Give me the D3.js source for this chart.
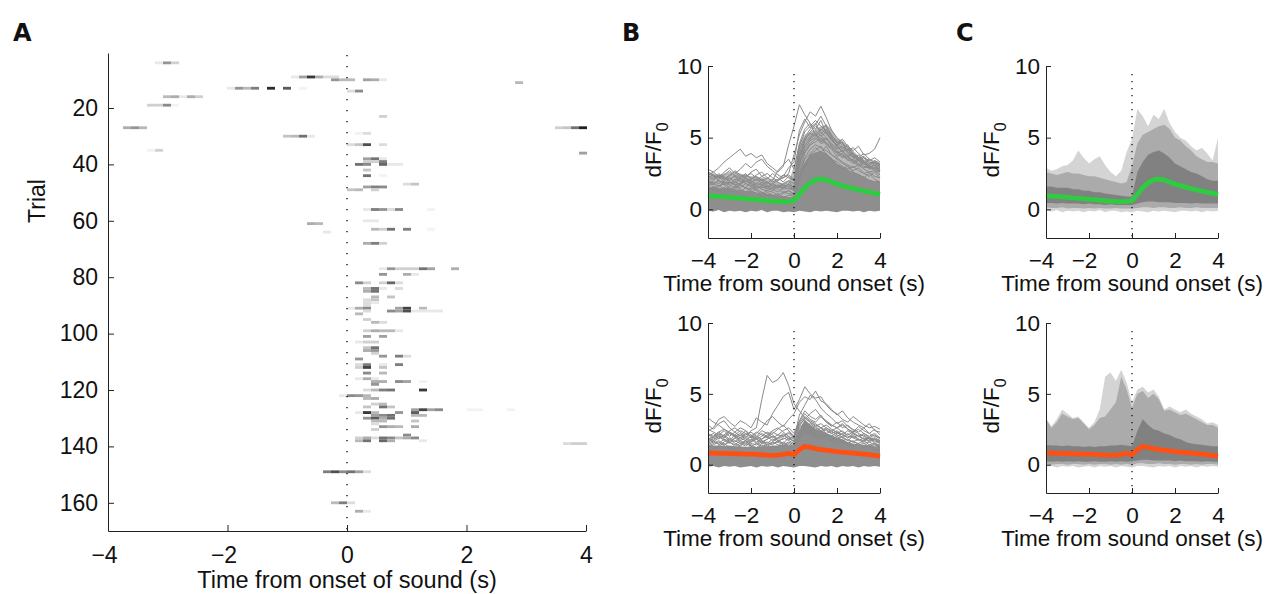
<!DOCTYPE html>
<html>
<head>
<meta charset="utf-8">
<script src="https://cdn.jsdelivr.net/npm/d3@7"></script>
<style>
  body { margin: 0; background: #fff; }
  svg { display: block; }
</style>
</head>
<body>
<svg id="fig" width="1274" height="594"></svg>
<script>
// ---------- shared ----------
const FONT = "'Liberation Sans', Arial, Helvetica, sans-serif";
const timeTicks = [-4, -2, 0, 2, 4];
const dffTicks = [0, 5, 10];
const trialTicks = [20, 40, 60, 80, 100, 120, 140, 160];

// ---------- A: event raster (trial, first frame rel. to onset, darkness per frame) ----------
const frameDur = 0.1339; // seconds per imaging frame
const rasterEvents = [
  [4, -24, [0.1, 0.45, 0.2]],
  [9, -7, [0.1, 0.4, 0.85, 0.35, 0.15, 0.15]],
  [10, -2, [0.45, 0.3, 0.3, 0, 0.4, 0.35, 0.1]],
  [11, 21, [0.3]],
  [13, -15, [0.1, 0.45, 0.3, 0.55, 0, 0.9, 0, 0.7, 0, 0.05]],
  [14, 0, [0.15, 0.5]],
  [16, -23, [0.3, 0.35, 0.1, 0.35, 0.2]],
  [19, -25, [0.2, 0.2, 0.5, 0.05]],
  [23, 4, [0.2]],
  [27, -28, [0.35, 0.45, 0.3]],
  [27, 26, [0.2, 0.25, 0.6, 0.95]],
  [29, 1, [0.05, 0.15]],
  [30, -8, [0.25, 0.3, 0.6, 0.1]],
  [33, 0, [0.15, 0.25, 0.75, 0, 0.15]],
  [35, -25, [0.05, 0.2]],
  [36, 29, [0.4]],
  [38, 2, [0.4, 0.6, 0.1]],
  [39, 2, [0.2, 0.2, 0.55]],
  [40, 1, [0.6, 0.5, 0, 0.65, 0.1, 0.1]],
  [42, 2, [0.25]],
  [44, 2, [0.6, 0, 0.05]],
  [47, 7, [0.15, 0.25]],
  [48, 2, [0.4, 0.55, 0.5]],
  [49, 0, [0.25, 0.3, 0, 0.2]],
  [56, 2, [0.1, 0.55, 0.45, 0.15, 0.5, 0, 0, 0, 0.05]],
  [60, 2, [0.1, 0.1]],
  [61, -5, [0.35, 0.3]],
  [63, 3, [0.3, 0.2, 0.6, 0, 0.55, 0, 0, 0.05]],
  [64, -3, [0.1]],
  [68, 2, [0.35, 0.55, 0.2]],
  [77, 4, [0.1, 0.45, 0.2, 0.2, 0.2, 0.6, 0.4, 0, 0, 0.35]],
  [79, 4, [0.45, 0, 0, 0.35, 0.1]],
  [82, 1, [0.5, 0.2, 0, 0.2, 0.65, 0.15]],
  [84, 2, [0.3, 0.6, 0.1, 0, 0.15]],
  [85, 2, [0.35, 0.6]],
  [87, 3, [0.3, 0, 0.25]],
  [88, 2, [0.15, 0.25]],
  [89, 2, [0.15, 0.1]],
  [90, 2, [0.15]],
  [91, 0, [0.1, 0.35, 0.5, 0, 0, 0, 0.4, 0.8, 0, 0.3]],
  [92, 2, [0.15, 0, 0, 0.5, 0.4, 0.75, 0.1, 0.1, 0.1, 0.1]],
  [93, 1, [0.3]],
  [95, 2, [0.2]],
  [96, 3, [0.3, 0.15]],
  [99, 2, [0.2, 0.35, 0.3, 0.3, 0.1]],
  [101, 2, [0.4, 0, 0.4]],
  [103, 1, [0.1, 0.2, 0.2]],
  [105, 2, [0.25, 0.6]],
  [106, 2, [0.35, 0.45]],
  [107, 3, [0.2]],
  [108, 4, [0.45, 0, 0.55, 0.15]],
  [109, 1, [0.45]],
  [111, 1, [0.15, 0.55, 0, 0.1, 0, 0.55]],
  [112, 1, [0.2, 0.8, 0, 0.25]],
  [114, 2, [0.5, 0, 0.3]],
  [116, 1, [0.1, 0.35, 0.1]],
  [117, 3, [0.35, 0.35, 0, 0.5, 0.4, 0, 0.05]],
  [118, 3, [0.45]],
  [120, 2, [0.15, 0.3, 0.55, 0.6, 0, 0, 0, 0.85]],
  [122, -1, [0.1, 0.5, 0.45, 0.3]],
  [123, 2, [0.3, 0.35]],
  [125, 3, [0.2, 0.3]],
  [126, 2, [0.25, 0, 0.6, 0.25]],
  [127, 8, [0.4, 0.8, 0.4, 0.5, 0, 0, 0, 0.05, 0.05, 0, 0, 0, 0.05]],
  [128, 1, [0.1, 0.85, 0.3, 0, 0, 0.45, 0, 0.7]],
  [129, 3, [0.4, 0.5, 0.6, 0, 0, 0.3, 0.3]],
  [130, 2, [0.45, 0.7, 0.35, 0.6]],
  [131, 3, [0.3, 0.3, 0, 0, 0, 0.25]],
  [132, 3, [0.15]],
  [133, 4, [0.45, 0.35, 0.3, 0, 0.35]],
  [134, 3, [0.2]],
  [136, 7, [0.5]],
  [137, 1, [0.2, 0.35, 0.15, 0.6, 0.5, 0.25, 0.35, 0.5]],
  [138, 1, [0.3, 0.6, 0, 0.65, 0.35, 0, 0, 0, 0.1]],
  [139, 27, [0.15, 0.2, 0.2]],
  [149, -3, [0.55, 0.75, 0.5, 0.6, 0.4, 0.15]],
  [160, -2, [0.3, 0.55, 0.15]],
  [163, 1, [0.35, 0.1]]
];

// ---------- B/C: dF/F0 traces and percentile bands ----------
const sampleTimes = [-4, -3.75, -3.5, -3.25, -3, -2.75, -2.5, -2.25, -2, -1.75, -1.5, -1.25, -1, -0.75, -0.5, -0.25,
  0, 0.25, 0.5, 0.75, 1, 1.25, 1.5, 1.75, 2, 2.25, 2.5, 2.75, 3, 3.25, 3.5, 3.75, 4];

// sound-responsive trials (top row)
const topMean = [0.95, 0.92, 0.9, 0.87, 0.84, 0.8, 0.77, 0.74, 0.7, 0.67, 0.64, 0.6, 0.57, 0.55, 0.54, 0.55,
  0.6, 1.05, 1.5, 1.85, 2.05, 2.1, 2.05, 1.9, 1.75, 1.65, 1.55, 1.45, 1.35, 1.28, 1.2, 1.12, 1.05];
const topLightHi = [2.9, 2.7, 2.8, 3.0, 3.1, 3.4, 4.1, 3.6, 3.2, 3.5, 3.7, 3.1, 2.6, 2.3, 2.7, 4.0,
  4.9, 7.0, 6.5, 5.8, 6.6, 6.3, 7.0, 6.0, 5.4, 5.0, 4.8, 4.4, 4.1, 4.3, 3.9, 3.4, 5.0];
const topMidHi = [2.6, 2.5, 2.4, 2.5, 2.6, 2.5, 2.5, 2.4, 2.3, 2.3, 2.2, 2.1, 2.0, 1.9, 1.8, 1.9,
  3.0, 4.6, 5.2, 5.4, 5.6, 5.8, 5.9, 5.6, 5.0, 4.8, 4.4, 4.1, 3.7, 3.5, 3.3, 3.3, 3.2];
const topDarkHi = [1.6, 1.6, 1.5, 1.5, 1.5, 1.4, 1.4, 1.3, 1.3, 1.2, 1.2, 1.1, 1.05, 1.0, 0.95, 0.9,
  0.9, 2.6, 3.3, 3.8, 4.0, 4.1, 3.9, 3.6, 3.2, 3.0, 2.8, 2.6, 2.5, 2.3, 2.1, 2.0, 2.0];
const topDarkLo = [0.45, 0.45, 0.4, 0.45, 0.4, 0.4, 0.4, 0.35, 0.4, 0.35, 0.35, 0.3, 0.35, 0.3, 0.3, 0.3,
  0.3, 0.4, 0.5, 0.55, 0.55, 0.5, 0.5, 0.5, 0.45, 0.45, 0.45, 0.4, 0.45, 0.4, 0.4, 0.4, 0.4];
const topMidLo = [0.15, 0.1, 0.1, 0.15, 0.05, 0.1, 0.1, 0.05, 0.1, 0.05, 0.1, 0.05, 0.05, 0.1, 0.05, 0.05,
  0.05, 0.1, 0.15, 0.15, 0.1, 0.15, 0.15, 0.1, 0.1, 0.15, 0.1, 0.1, 0.15, 0.1, 0.1, 0.1, 0.1];
const topLightLo = [-0.1, -0.15, -0.05, -0.2, -0.1, -0.15, -0.1, -0.2, -0.1, -0.15, -0.05, -0.2, -0.1, -0.1, -0.2, -0.15,
  -0.2, -0.1, -0.15, -0.2, -0.1, -0.15, -0.1, -0.15, -0.2, -0.1, -0.1, -0.15, -0.1, -0.2, -0.1, -0.15, -0.1];
const topTraces = [
  [2.8, 2.6, 2.9, 3.3, 3.6, 3.9, 4.2, 3.7, 3.9, 3.6, 3.8, 3.2, 2.9, 2.6, 3.0, 4.5, 5.8, 7.3, 6.6, 6.0, 5.6, 6.2, 5.3, 4.8, 4.5, 4.0, 4.2, 3.8, 3.5, 3.3, 3.0, 3.4, 3.2],
  [2.5, 2.3, 2.2, 2.6, 2.9, 2.5, 2.8, 3.2, 2.9, 3.3, 3.5, 3.0, 2.7, 2.4, 2.2, 2.5, 3.8, 5.2, 6.1, 6.8, 6.5, 7.2, 6.4, 5.5, 5.0, 4.6, 4.3, 3.9, 3.6, 3.9, 3.5, 3.3, 3.1],
  [1.8, 2.0, 2.4, 2.1, 2.3, 2.7, 2.4, 2.2, 2.6, 2.8, 2.3, 2.1, 2.5, 2.2, 1.9, 2.3, 2.0, 4.2, 5.0, 5.6, 5.9, 6.5, 5.8, 5.2, 4.6, 4.9, 4.4, 4.1, 4.4, 3.8, 3.9, 4.2, 5.0],
  [1.4, 1.6, 1.3, 1.5, 1.9, 1.7, 1.5, 1.8, 1.6, 1.4, 1.7, 1.5, 1.3, 1.6, 1.8, 2.0, 1.4, 3.0, 4.4, 5.0, 5.3, 4.8, 5.0, 4.4, 3.9, 3.6, 3.8, 3.3, 3.0, 3.2, 2.8, 2.9, 2.6],
  [1.0, 1.2, 1.4, 1.1, 1.3, 1.0, 1.2, 1.5, 1.3, 1.1, 0.9, 1.2, 1.0, 0.8, 1.1, 1.3, 1.0, 2.4, 3.5, 3.9, 4.3, 4.0, 4.4, 3.8, 3.5, 3.2, 3.0, 2.7, 2.9, 2.5, 2.3, 2.6, 2.2],
  [2.2, 2.4, 2.0, 1.8, 2.1, 2.3, 1.9, 2.2, 2.0, 1.8, 2.1, 1.9, 1.7, 1.6, 1.5, 1.7, 1.6, 3.6, 4.8, 5.4, 5.8, 5.5, 5.9, 5.0, 4.7, 4.2, 4.5, 3.8, 3.6, 3.4, 3.1, 3.3, 3.0],
  [1.9, 1.7, 2.1, 2.3, 1.9, 1.8, 2.2, 2.5, 2.1, 2.4, 2.6, 2.2, 2.0, 2.7, 3.1, 3.5, 2.8, 4.6, 5.6, 6.0, 5.2, 5.6, 5.3, 4.8, 4.5, 4.7, 4.0, 3.6, 3.8, 3.3, 3.0, 2.9, 2.8],
  [1.2, 1.5, 1.7, 1.4, 1.6, 2.0, 1.7, 1.5, 1.9, 2.1, 1.8, 1.6, 1.4, 1.2, 1.5, 1.8, 1.3, 3.3, 4.0, 4.6, 4.9, 5.2, 4.6, 4.3, 4.0, 3.7, 3.5, 3.2, 3.4, 3.0, 2.9, 3.1, 2.7],
  [0.8, 1.0, 0.9, 1.2, 1.0, 1.3, 1.1, 0.9, 1.2, 1.4, 1.2, 1.0, 0.9, 1.1, 0.8, 1.0, 0.9, 2.0, 3.0, 3.6, 3.7, 3.5, 3.9, 3.4, 3.1, 2.8, 3.0, 2.6, 2.4, 2.2, 2.5, 2.1, 1.9],
  [2.0, 1.8, 1.6, 1.9, 1.7, 1.5, 1.8, 2.0, 1.7, 1.5, 1.6, 1.4, 1.8, 2.0, 2.3, 2.9, 3.3, 5.5, 6.3, 5.7, 6.0, 5.3, 5.6, 5.0, 4.4, 4.0, 3.7, 3.9, 3.4, 3.2, 3.5, 3.0, 2.8],
  [2.3, 2.1, 2.5, 2.2, 2.0, 2.4, 2.2, 1.9, 2.1, 2.3, 2.0, 1.8, 2.1, 1.9, 1.7, 2.0, 1.8, 3.9, 4.9, 5.3, 5.1, 5.4, 5.0, 4.6, 4.2, 4.4, 3.9, 3.7, 3.5, 3.7, 3.3, 3.2, 3.0],
  [1.7, 1.9, 1.8, 2.0, 2.2, 1.9, 1.7, 2.0, 1.8, 1.6, 1.9, 1.7, 1.5, 1.7, 1.6, 1.4, 1.5, 3.4, 4.5, 4.9, 5.2, 4.7, 4.9, 4.5, 4.1, 3.8, 3.6, 3.4, 3.1, 3.3, 2.9, 3.1, 2.9],
  [2.0, 2.2, 2.3, 1.9, 1.8, 2.1, 2.0, 1.8, 1.6, 1.8, 1.7, 1.9, 1.6, 1.5, 1.7, 1.6, 1.4, 2.8, 3.9, 4.5, 4.7, 5.0, 4.5, 4.2, 3.7, 3.9, 3.4, 3.5, 3.2, 2.9, 3.0, 2.7, 2.6],
  [1.5, 1.3, 1.6, 1.8, 1.5, 1.4, 1.7, 1.5, 1.4, 1.6, 1.4, 1.3, 1.5, 1.4, 1.2, 1.3, 1.1, 2.6, 3.6, 4.2, 4.5, 4.3, 4.1, 3.8, 3.6, 3.3, 3.1, 2.9, 3.1, 2.8, 2.6, 2.7, 2.4],
  [2.6, 2.4, 2.2, 2.4, 2.7, 2.3, 2.1, 2.3, 2.5, 2.2, 2.0, 2.2, 1.9, 2.1, 2.4, 2.2, 2.0, 4.4, 5.4, 5.8, 6.2, 5.8, 5.5, 5.1, 4.8, 4.5, 4.1, 4.3, 3.9, 3.6, 3.4, 3.6, 3.3],
  [1.3, 1.4, 1.2, 1.5, 1.3, 1.6, 1.4, 1.2, 1.5, 1.3, 1.1, 1.3, 1.2, 1.0, 1.2, 1.1, 1.0, 2.2, 3.2, 3.8, 4.1, 4.4, 3.8, 3.5, 3.3, 3.0, 2.8, 3.0, 2.7, 2.5, 2.6, 2.3, 2.2],
  [2.4, 2.6, 2.3, 2.1, 2.4, 2.6, 2.3, 2.4, 2.2, 2.0, 2.3, 2.5, 2.2, 2.0, 2.2, 2.4, 2.1, 3.7, 4.7, 5.1, 5.5, 5.1, 5.4, 4.9, 4.3, 4.1, 4.2, 3.6, 3.4, 3.6, 3.2, 3.4, 3.1],
  [1.6, 1.8, 2.0, 1.7, 1.9, 1.7, 1.8, 2.1, 1.9, 1.7, 1.5, 1.6, 1.8, 1.6, 1.4, 1.5, 1.3, 3.1, 4.2, 4.8, 5.0, 4.6, 4.7, 4.3, 3.9, 4.1, 3.7, 3.3, 3.5, 3.2, 3.0, 2.8, 2.7]
];

// remaining trials (bottom row)
const bottomMean = [0.82, 0.81, 0.8, 0.79, 0.78, 0.77, 0.76, 0.75, 0.74, 0.72, 0.7, 0.68, 0.66, 0.68, 0.72, 0.8,
  0.72, 1.05, 1.3, 1.22, 1.13, 1.07, 1.02, 0.98, 0.92, 0.88, 0.85, 0.82, 0.78, 0.74, 0.7, 0.65, 0.6];
const bottomLightHi = [3.3, 2.7, 3.2, 3.9, 3.6, 3.3, 3.4, 3.0, 2.6, 3.0, 3.9, 6.2, 6.5, 5.9, 6.7, 5.8,
  4.4, 5.3, 5.5, 5.1, 5.3, 4.8, 3.9, 4.1, 3.9, 3.7, 3.9, 3.6, 3.4, 3.2, 2.9, 3.0, 2.8];
const bottomMidHi = [3.2, 2.6, 3.0, 3.6, 3.4, 3.2, 3.3, 2.9, 2.5, 2.8, 3.3, 3.4, 3.9, 4.4, 6.2, 5.3,
  4.0, 5.0, 5.2, 4.7, 5.0, 4.6, 3.8, 3.9, 3.7, 3.5, 3.6, 3.4, 3.2, 3.0, 2.8, 2.8, 2.6];
const bottomDarkHi = [1.4, 1.35, 1.35, 1.3, 1.35, 1.3, 1.3, 1.25, 1.3, 1.25, 1.3, 1.3, 1.35, 1.35, 1.4, 1.35,
  1.3, 2.4, 3.2, 2.8, 2.5, 2.4, 2.2, 2.1, 1.9, 1.8, 1.6, 1.5, 1.45, 1.4, 1.35, 1.3, 1.3];
const bottomDarkLo = [0.25, 0.2, 0.25, 0.2, 0.25, 0.2, 0.25, 0.2, 0.2, 0.25, 0.2, 0.2, 0.25, 0.2, 0.25, 0.2,
  0.25, 0.3, 0.35, 0.35, 0.3, 0.3, 0.3, 0.3, 0.25, 0.3, 0.25, 0.25, 0.25, 0.2, 0.25, 0.2, 0.2];
const bottomMidLo = [0.05, 0.0, 0.05, 0.05, 0.0, 0.05, 0.05, 0.0, 0.05, 0.0, 0.05, 0.05, 0.0, 0.05, 0.0, 0.05,
  0.0, 0.1, 0.1, 0.05, 0.05, 0.1, 0.05, 0.05, 0.0, 0.05, 0.05, 0.0, 0.05, 0.0, 0.05, 0.05, 0.0];
const bottomLightLo = [-0.15, -0.1, -0.2, -0.1, -0.15, -0.1, -0.2, -0.15, -0.1, -0.2, -0.1, -0.15, -0.1, -0.2, -0.1, -0.15,
  -0.2, -0.1, -0.1, -0.15, -0.2, -0.1, -0.15, -0.1, -0.2, -0.1, -0.15, -0.1, -0.2, -0.1, -0.15, -0.1, -0.15];
const bottomTraces = [
  [3.3, 3.0, 2.8, 2.5, 2.3, 2.0, 2.2, 1.9, 2.4, 2.6, 4.6, 6.3, 5.8, 6.0, 6.5, 5.6, 4.3, 3.8, 3.3, 3.0, 2.8, 2.6, 2.4, 2.2, 2.4, 2.1, 1.9, 2.2, 2.0, 1.8, 1.9, 2.1, 1.8],
  [2.4, 2.6, 3.2, 3.4, 3.0, 2.7, 3.1, 2.9, 2.6, 3.3, 3.0, 2.8, 3.6, 4.2, 4.8, 5.1, 3.9, 4.6, 5.5, 5.0, 4.7, 4.8, 4.2, 3.8, 3.6, 3.2, 3.0, 3.4, 3.1, 2.8, 2.6, 2.7, 2.5],
  [2.0, 2.2, 1.8, 2.1, 2.4, 2.6, 2.3, 2.0, 1.9, 2.2, 2.6, 3.1, 3.4, 3.0, 2.7, 3.2, 3.6, 4.4, 4.8, 4.6, 5.2, 4.5, 4.3, 3.9, 3.5, 3.8, 3.3, 3.0, 2.8, 2.6, 2.9, 2.4, 2.3],
  [1.6, 1.8, 2.0, 1.7, 1.5, 1.9, 1.6, 1.4, 1.8, 1.5, 1.7, 1.4, 1.6, 1.9, 2.2, 1.8, 2.0, 3.0, 3.6, 3.2, 3.0, 3.4, 3.1, 2.8, 2.6, 2.9, 2.5, 2.3, 2.7, 2.4, 2.2, 2.5, 2.1],
  [1.2, 1.4, 1.6, 1.3, 1.8, 1.5, 1.3, 1.6, 1.4, 1.2, 1.5, 1.8, 2.0, 1.7, 1.5, 1.9, 1.6, 2.5, 2.9, 2.6, 2.3, 2.6, 2.2, 2.0, 2.3, 1.9, 1.7, 2.0, 1.8, 1.6, 1.9, 1.5, 1.4],
  [0.9, 1.1, 1.3, 1.5, 1.2, 1.0, 1.4, 1.7, 1.3, 1.1, 1.4, 1.2, 1.0, 1.3, 1.6, 1.4, 1.2, 2.0, 2.4, 2.2, 2.0, 1.8, 2.1, 1.7, 1.5, 1.8, 1.4, 1.3, 1.5, 1.2, 1.4, 1.1, 1.0],
  [2.8, 2.5, 2.9, 3.1, 2.6, 2.3, 2.0, 2.4, 1.9, 1.6, 1.8, 2.1, 2.4, 2.6, 2.3, 2.0, 1.8, 3.5, 4.2, 4.9, 4.6, 4.0, 3.6, 3.3, 2.9, 3.1, 2.7, 2.5, 2.3, 2.6, 2.2, 2.0, 1.9],
  [1.8, 2.0, 2.3, 2.0, 1.7, 2.1, 2.4, 2.2, 2.0, 2.3, 2.1, 1.9, 2.2, 2.5, 2.8, 2.4, 2.0, 2.8, 3.2, 3.6, 3.9, 3.4, 3.0, 2.7, 3.0, 2.6, 2.8, 2.4, 2.2, 2.0, 1.8, 1.7, 1.5],
  [1.9, 1.7, 2.0, 1.8, 1.6, 1.9, 2.1, 1.8, 1.6, 1.9, 1.7, 1.5, 1.8, 1.6, 1.9, 1.7, 1.5, 2.4, 2.8, 2.5, 2.7, 2.4, 2.2, 2.4, 2.1, 1.9, 2.2, 1.9, 1.7, 1.9, 1.6, 1.8, 1.5],
  [1.5, 1.7, 1.4, 1.6, 1.9, 1.7, 1.5, 1.3, 1.6, 1.8, 1.5, 1.6, 1.4, 1.7, 1.5, 1.3, 1.4, 2.1, 2.6, 2.3, 2.1, 2.3, 2.0, 1.8, 2.0, 1.7, 1.8, 1.6, 1.5, 1.7, 1.4, 1.5, 1.3],
  [2.2, 2.0, 2.3, 2.5, 2.2, 2.0, 1.8, 2.1, 2.3, 2.0, 2.4, 2.2, 1.9, 2.1, 2.0, 2.2, 1.9, 2.7, 3.3, 3.0, 2.7, 2.9, 2.6, 2.4, 2.6, 2.3, 2.1, 2.3, 2.0, 2.2, 1.9, 1.8, 1.7],
  [1.3, 1.5, 1.7, 1.4, 1.6, 1.4, 1.7, 1.5, 1.3, 1.5, 1.3, 1.4, 1.6, 1.4, 1.3, 1.5, 1.3, 1.9, 2.3, 2.1, 1.9, 2.1, 1.8, 1.7, 1.9, 1.6, 1.5, 1.7, 1.4, 1.5, 1.3, 1.4, 1.2],
  [1.7, 1.9, 2.1, 1.9, 2.2, 2.0, 1.7, 1.9, 1.7, 2.0, 1.8, 2.0, 1.7, 1.9, 2.1, 1.8, 1.7, 2.6, 3.0, 2.8, 2.5, 2.3, 2.5, 2.2, 2.0, 2.2, 1.9, 2.1, 1.8, 1.7, 1.9, 1.6, 1.6],
  [2.1, 1.9, 2.2, 2.0, 2.3, 2.1, 1.9, 2.2, 2.0, 1.8, 2.0, 2.3, 2.1, 1.8, 2.0, 2.3, 2.0, 2.9, 3.4, 3.1, 2.9, 2.6, 2.8, 2.5, 2.3, 2.1, 2.4, 2.2, 2.0, 2.1, 1.8, 1.9, 1.7],
  [1.4, 1.6, 1.5, 1.8, 1.6, 1.3, 1.5, 1.7, 1.5, 1.4, 1.6, 1.3, 1.5, 1.6, 1.4, 1.6, 1.4, 2.2, 2.5, 2.4, 2.2, 2.0, 2.2, 1.9, 1.8, 2.0, 1.7, 1.6, 1.8, 1.5, 1.6, 1.4, 1.3],
  [2.5, 2.3, 2.1, 2.4, 2.0, 2.3, 2.6, 2.4, 2.1, 1.9, 2.2, 2.0, 2.3, 2.1, 2.4, 2.6, 2.2, 3.1, 3.8, 3.4, 3.2, 3.5, 3.0, 2.8, 2.6, 2.8, 2.5, 2.3, 2.5, 2.2, 2.0, 2.2, 1.9],
  [1.8, 1.6, 1.9, 2.1, 1.8, 1.6, 1.9, 1.7, 2.0, 1.8, 1.6, 1.8, 2.0, 1.7, 1.8, 2.0, 1.6, 2.3, 2.7, 2.9, 2.6, 2.4, 2.6, 2.3, 2.2, 2.4, 2.0, 1.9, 2.1, 1.8, 1.7, 1.8, 1.6]
];

const topColor = "#2ecc40";
const bottomColor = "#ff5014";

// ---------- drawing ----------
const svg = d3.select("#fig");
const AXIS_COLOR = "#222";

function styleAxis(g, size, negShift = 0) {
  g.attr("font-family", null).attr("font-size", null);
  g.select(".domain").attr("stroke", AXIS_COLOR).attr("stroke-width", 1);
  g.selectAll(".tick line").attr("stroke", AXIS_COLOR);
  g.selectAll(".tick text").attr("font-family", FONT).attr("font-size", size).attr("fill", "#111");
  if (negShift) g.selectAll(".tick text").filter(d => d < 0).attr("dx", negShift);
}

function addText(x, y, str, size, opts = {}) {
  const t = svg.append("text")
    .attr("x", x).attr("y", y)
    .attr("font-family", opts.family || FONT)
    .attr("font-size", size)
    .attr("font-weight", opts.weight || "normal")
    .attr("text-anchor", opts.anchor || "middle")
    .attr("fill", "#111")
    .text(str);
  if (opts.rotate) t.attr("transform", `rotate(${opts.rotate},${x},${y})`);
  return t;
}

// panel letters
addText(13, 41, "A", 24, { weight: "bold", anchor: "start", family: "'DejaVu Sans', sans-serif" });
addText(622, 41, "B", 24, { weight: "bold", anchor: "start", family: "'DejaVu Sans', sans-serif" });
addText(956, 41, "C", 24, { weight: "bold", anchor: "start", family: "'DejaVu Sans', sans-serif" });

// ----- Panel A -----
{
  const x = d3.scaleLinear().domain([-4, 4]).range([108, 586]);
  const y = d3.scaleLinear().domain([0.5, 170]).range([53, 531]);
  const shade = d3.scaleLinear().domain([0, 1]).range(["#ffffff", "#141414"]);
  const cellW = x(frameDur) - x(0);
  const cellH = y(1) - y(0);
  const cells = rasterEvents.flatMap(([trial, f0, vals]) =>
    vals.map((v, i) => ({ trial, frame: f0 + i, v }))).filter(c => c.v > 0);

  svg.append("g").selectAll("rect").data(cells).join("rect")
    .attr("x", c => x(c.frame * frameDur))
    .attr("y", c => y(c.trial - 0.5))
    .attr("width", cellW)
    .attr("height", cellH)
    .attr("fill", c => shade(c.v));

  svg.append("line")
    .attr("x1", x(0)).attr("x2", x(0))
    .attr("y1", 55).attr("y2", 531)
    .attr("stroke", "#000").attr("stroke-width", 1.3)
    .attr("stroke-dasharray", "1.3,9.7");

  const gy = svg.append("g").attr("transform", `translate(${x(-4)},0)`)
    .call(d3.axisLeft(y).tickValues(trialTicks).tickSizeInner(-6).tickSizeOuter(0).tickPadding(10));
  styleAxis(gy, 23);
  const gx = svg.append("g").attr("transform", `translate(0,${y(170)})`)
    .call(d3.axisBottom(x).tickValues(timeTicks).tickSizeInner(-6).tickSizeOuter(0).tickPadding(16));
  styleAxis(gx, 23, -4);

  addText(347, 588, "Time from onset of sound (s)", 23.5);
  addText(45, 201, "Trial", 23, { rotate: -90 });
}

// ----- Panels B and C -----
function dffPanel(cfg) {
  const x = d3.scaleLinear().domain([-4, 4]).range([cfg.x0, cfg.x1]);
  const y = d3.scaleLinear().domain([-2, 10]).range([cfg.yBot, cfg.yTop]);
  const g = svg.append("g");
  const band = (lo, hi) => d3.area()
    .x((d, i) => x(sampleTimes[i]))
    .y0((d, i) => y(lo[i]))
    .y1((d, i) => y(hi[i]))(sampleTimes);
  const line = d3.line().x((d, i) => x(sampleTimes[i])).y(d => y(d));

  if (cfg.traces) {
    // spread of the single-trial traces: a dense core (and, where the traces crowd, a looser halo)
    if (cfg.halo) g.append("path").attr("d", band(cfg.darkHi, cfg.midHi)).attr("fill", "#b9b9b9");
    g.append("path").attr("d", band(cfg.lightLo, cfg.darkHi)).attr("fill", "#8e8e8e");
    g.selectAll("path.trace").data(cfg.traces).join("path")
      .attr("class", "trace")
      .attr("d", d => line(d))
      .attr("fill", "none").attr("stroke", "#8a8a8a").attr("stroke-width", 1);
  } else {
    g.append("path").attr("d", band(cfg.lightLo, cfg.lightHi)).attr("fill", "#d4d4d4");
    g.append("path").attr("d", band(cfg.midLo, cfg.midHi)).attr("fill", "#ababab");
    g.append("path").attr("d", band(cfg.darkLo, cfg.darkHi)).attr("fill", "#818181");
  }

  g.append("line")
    .attr("x1", x(0)).attr("x2", x(0))
    .attr("y1", cfg.yTop + 8).attr("y2", cfg.yBot)
    .attr("stroke", "#000").attr("stroke-width", 1.2)
    .attr("stroke-dasharray", "1.2,5.8");

  g.append("path").attr("d", line(cfg.mean))
    .attr("fill", "none").attr("stroke", cfg.color)
    .attr("stroke-width", 4.8).attr("stroke-linejoin", "round");

  const gy = svg.append("g").attr("transform", `translate(${cfg.x0},0)`)
    .call(d3.axisLeft(y).tickValues(dffTicks).tickSizeInner(-5).tickSizeOuter(0).tickPadding(6));
  styleAxis(gy, 22.5);
  const gx = svg.append("g").attr("transform", `translate(0,${cfg.yBot})`)
    .call(d3.axisBottom(x).tickValues(timeTicks).tickSizeInner(-5).tickSizeOuter(0).tickPadding(14));
  styleAxis(gx, 22.5, -5);

  addText((cfg.x0 + cfg.x1) / 2, cfg.yBot + 53, "Time from sound onset (s)", 22.5);
  const lab = addText(cfg.x0 - 47, (cfg.yTop + cfg.yBot) / 2 - 2, "", 22.5, { rotate: -90 });
  lab.append("tspan").text("dF/F");
  lab.append("tspan").attr("dy", 7).attr("font-size", 16).text("0");
}

const topBands = { mean: topMean, lightHi: topLightHi, midHi: topMidHi, darkHi: topDarkHi,
  darkLo: topDarkLo, midLo: topMidLo, lightLo: topLightLo, color: topColor };
const bottomBands = { mean: bottomMean, lightHi: bottomLightHi, midHi: bottomMidHi, darkHi: bottomDarkHi,
  darkLo: bottomDarkLo, midLo: bottomMidLo, lightLo: bottomLightLo, color: bottomColor };

dffPanel({ ...topBands, traces: topTraces, halo: true, x0: 708, x1: 880, yTop: 66, yBot: 238 });
dffPanel({ ...bottomBands, traces: bottomTraces, halo: false, x0: 708, x1: 880, yTop: 323, yBot: 493 });
dffPanel({ ...topBands, x0: 1046, x1: 1218, yTop: 66, yBot: 238 });
dffPanel({ ...bottomBands, x0: 1046, x1: 1218, yTop: 323, yBot: 493 });
</script>
</body>
</html>
